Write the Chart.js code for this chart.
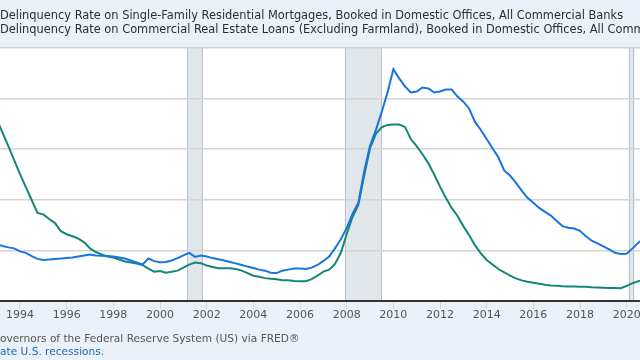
<!DOCTYPE html>
<html><head><meta charset="utf-8">
<script src="https://cdn.jsdelivr.net/npm/chart.js@4"></script>
<style>html,body{margin:0;padding:0;background:#eaf1f9;overflow:hidden}</style>
</head><body>
<canvas id="c" width="640" height="360"></canvas>
<script>
// ---- data (quarterly, starting 1993 Q1) ----
const startYear = 1993;
const residential = [
  2.80, 2.72, 2.65, 2.60,
  2.45, 2.38, 2.22, 2.08,
  2.03, 2.05, 2.08, 2.10,
  2.13, 2.15, 2.20, 2.25,
  2.30, 2.25, 2.24, 2.22,
  2.20, 2.15, 2.10, 2.00,
  1.90, 1.80, 2.10, 1.97,
  1.92, 1.93, 2.00, 2.12,
  2.25, 2.38, 2.18, 2.25,
  2.20, 2.12, 2.06, 2.00,
  1.93, 1.86, 1.78, 1.70,
  1.63, 1.55, 1.50, 1.40,
  1.38, 1.50, 1.55, 1.60,
  1.60, 1.58, 1.65, 1.78,
  1.98, 2.20, 2.60, 3.05,
  3.60, 4.30, 4.85, 6.40,
  7.67, 8.44, 9.33, 10.30,
  11.45, 11.00, 10.60, 10.30,
  10.35, 10.55, 10.50, 10.30,
  10.35, 10.45, 10.45, 10.10,
  9.85, 9.50, 8.85, 8.45,
  8.00, 7.55, 7.10, 6.45,
  6.20, 5.85, 5.45, 5.10,
  4.85, 4.60, 4.40, 4.22,
  3.95, 3.70, 3.62, 3.58,
  3.47, 3.20, 2.98, 2.85,
  2.70, 2.55, 2.38, 2.32,
  2.33, 2.60, 2.88, 3.10
];
const commercial = [
  9.00, 8.32, 7.65, 6.96,
  6.27, 5.63, 4.99, 4.35,
  4.28, 4.05, 3.85, 3.45,
  3.30, 3.20, 3.08, 2.90,
  2.60, 2.42, 2.30, 2.20,
  2.15, 2.05, 1.95, 1.90,
  1.85, 1.78, 1.60, 1.45,
  1.48, 1.40, 1.45, 1.50,
  1.65, 1.80, 1.90, 1.87,
  1.75, 1.68, 1.62, 1.62,
  1.62, 1.58, 1.50, 1.38,
  1.25, 1.20, 1.13, 1.10,
  1.07, 1.03, 1.02, 0.99,
  0.98, 0.98, 1.08, 1.25,
  1.45, 1.55, 1.83, 2.38,
  3.30, 4.15, 4.75, 6.20,
  7.55, 8.26, 8.58, 8.70,
  8.72, 8.72, 8.60, 8.00,
  7.65, 7.25, 6.80, 6.25,
  5.65, 5.10, 4.60, 4.20,
  3.70, 3.25, 2.75, 2.35,
  2.03, 1.80, 1.58, 1.42,
  1.25, 1.12, 1.02, 0.95,
  0.90, 0.85, 0.80, 0.77,
  0.75, 0.73, 0.72, 0.72,
  0.71, 0.70, 0.68, 0.67,
  0.66, 0.64, 0.64, 0.63,
  0.75, 0.88, 0.98, 1.05
];
const xTickYears = [1994,1996,1998,2000,2002,2004,2006,2008,2010,2012,2014,2016,2018,2020];
const yGridValues = [0, 2.5, 5, 7.5, 10, 12.5];
const recessions = [[2001.167, 2001.833], [2007.917, 2009.5], [2020.083, 2020.333]];
const legendLabels = [
  "Delinquency Rate on Single-Family Residential Mortgages, Booked in Domestic Offices, All Commercial Banks",
  "Delinquency Rate on Commercial Real Estate Loans (Excluding Farmland), Booked in Domestic Offices, All Commercial Banks"
];
const sourceText = "Source: Board of Governors of the Federal Reserve System (US) via FRED®";
const sourceHidden = "Source: Board of G";
const noteText = "Shaded areas indicate U.S. recessions.";
const noteHidden = "Shaded areas indic";

const quarters = residential.map((_, i) => startYear + i * 0.25);

const FAMILY = "'DejaVu Sans', Verdana, sans-serif";

const decor = {
  id: 'decor',
  beforeDraw(chart) {
    const {ctx, chartArea: a, scales: {x}} = chart;
    ctx.save();
    ctx.fillStyle = '#eaf1f9';
    ctx.fillRect(0, 0, chart.width, chart.height);
    ctx.fillStyle = '#ffffff';
    ctx.fillRect(a.left, a.top, a.right - a.left, a.bottom - a.top);
    recessions.forEach(([s, e]) => {
      const x1 = x.getPixelForValue(s), x2 = x.getPixelForValue(e);
      ctx.fillStyle = '#e1e6eb';
      ctx.fillRect(x1, a.top, x2 - x1, a.bottom - a.top);
      ctx.strokeStyle = '#bcc2c9';
      ctx.lineWidth = 1;
      ctx.beginPath();
      ctx.moveTo(Math.round(x1) + 0.5, a.top); ctx.lineTo(Math.round(x1) + 0.5, a.bottom);
      ctx.moveTo(Math.round(x2) - 0.5, a.top); ctx.lineTo(Math.round(x2) - 0.5, a.bottom);
      ctx.stroke();
    });
    ctx.restore();
  },
  afterDraw(chart) {
    const {ctx} = chart;
    ctx.save();
    ctx.textBaseline = 'middle';
    ctx.textAlign = 'left';
    ctx.font = "11.4px " + FAMILY;
    ctx.fillStyle = '#2e2e2e';
    ctx.fillText(legendLabels[0], 0, 16);
    ctx.fillText(legendLabels[1], 0, 30);
    ctx.font = "10.6px " + FAMILY;
    ctx.fillStyle = '#555555';
    ctx.fillText(sourceText, -ctx.measureText(sourceHidden).width, 339);
    ctx.fillStyle = '#1f67b1';
    ctx.fillText(noteText, -ctx.measureText(noteHidden).width, 352);
    ctx.restore();
  }
};

new Chart(document.getElementById('c'), {
  type: 'line',
  data: {
    datasets: [
      { label: legendLabels[0], data: quarters.map((q, i) => ({x: q, y: residential[i]})),
        borderColor: '#1a73e3', borderWidth: 2, pointRadius: 0, tension: 0 },
      { label: legendLabels[1], data: quarters.map((q, i) => ({x: q, y: commercial[i]})),
        borderColor: '#138777', borderWidth: 2, pointRadius: 0, tension: 0 }
    ]
  },
  options: {
    responsive: false, animation: false,
    layout: { padding: { top: 48, left: 0, right: 0, bottom: 0 } },
    plugins: { legend: { display: false }, tooltip: { enabled: false }, title: { display: false } },
    scales: {
      x: {
        type: 'linear', min: 1993.143, max: 2020.571,
        afterBuildTicks: s => { s.ticks = xTickYears.map(v => ({value: v})); },
        ticks: { autoSkip: false, maxRotation: 0, color: '#555555', padding: 0,
                 font: { family: FAMILY, size: 11 },
                 callback: v => String(v) },
        grid: { drawOnChartArea: false, drawTicks: true, tickLength: 8, color: '#d3d9e0' },
        border: { display: true, color: '#333333', width: 2 },
        afterFit: s => { s.height = 59; s.paddingLeft = 0; s.paddingRight = 0; }
      },
      y: {
        min: 0, max: 12.5,
        afterBuildTicks: s => { s.ticks = yGridValues.map(v => ({value: v})); },
        ticks: { display: false },
        grid: { color: '#d4d4d4', lineWidth: 1.5, drawTicks: false },
        border: { display: false },
        afterFit: s => { s.width = 0; s.paddingTop = 0; s.paddingBottom = 0; }
      }
    }
  },
  plugins: [decor]
});
</script>
</body></html>
